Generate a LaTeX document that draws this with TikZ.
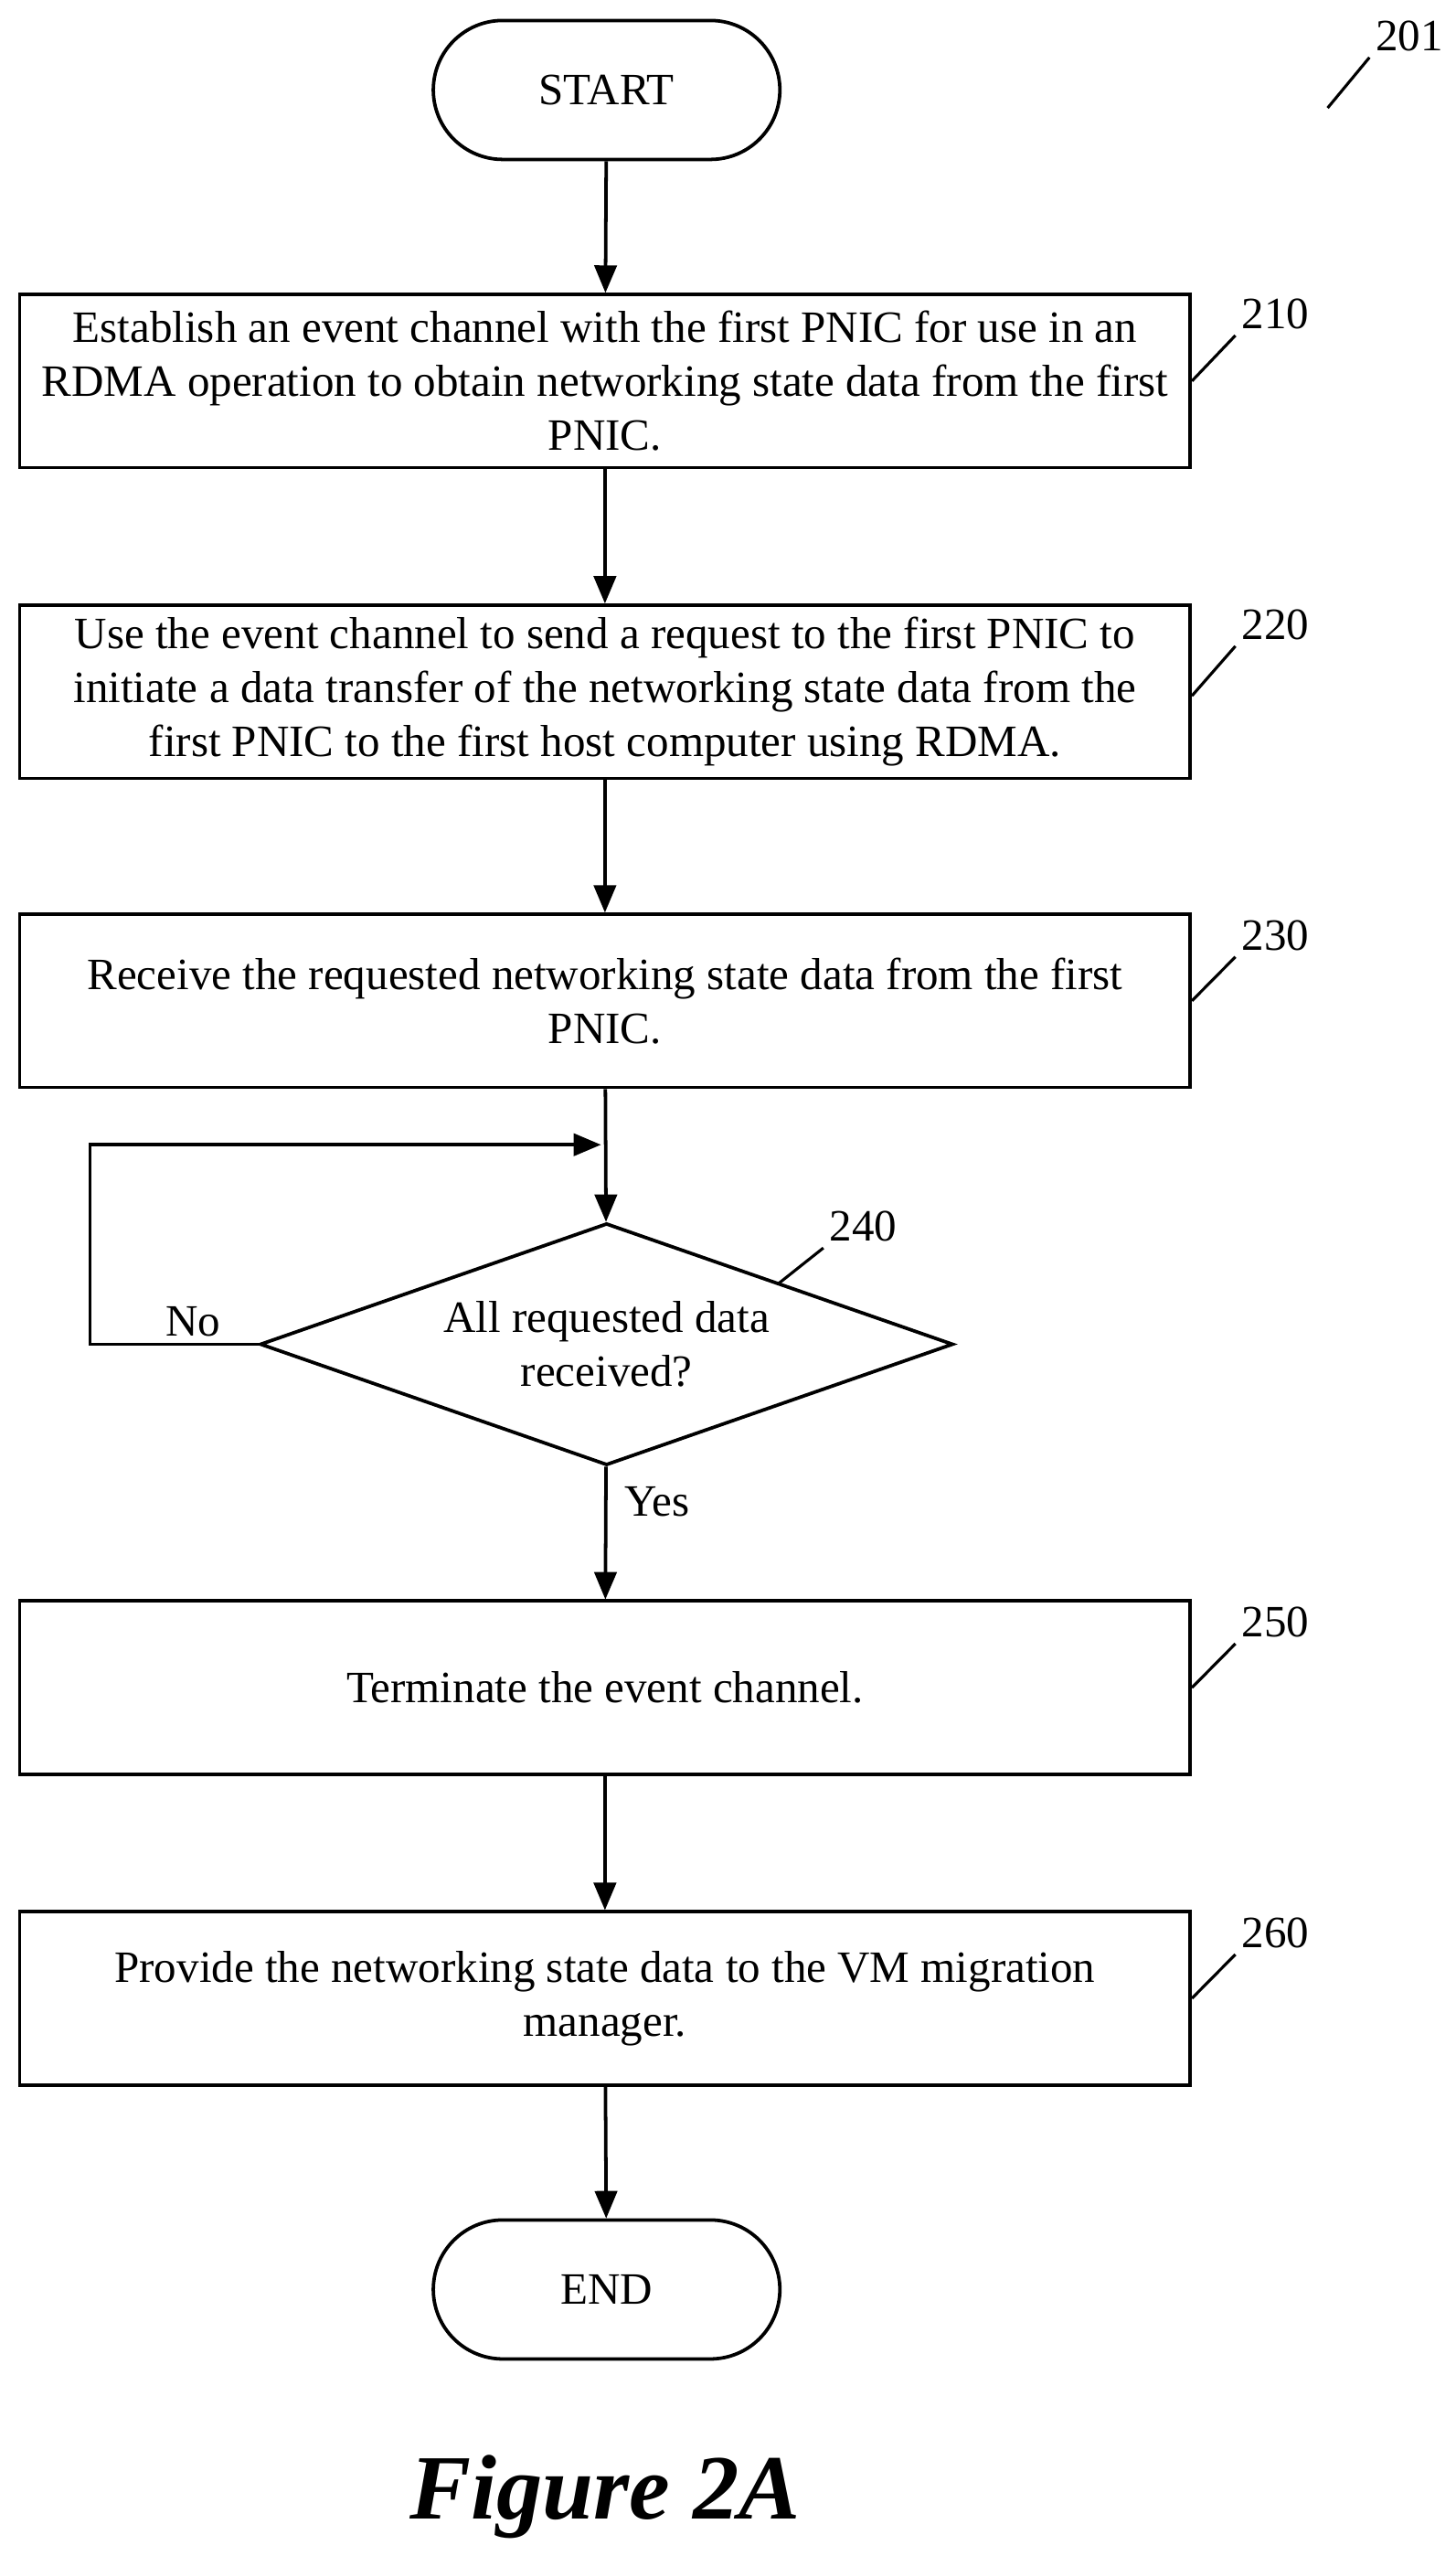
\documentclass[tikz,border=0pt]{standalone}
\usepackage{fontspec}
\setmainfont{Liberation Serif}
\usetikzlibrary{shapes.geometric, arrows, positioning}

\begin{document}
\begin{tikzpicture}[
  x=0.02cm, y=-0.02cm,
  every node/.style={
    font=\fontsize{15.6}{18.8}\selectfont,
    inner sep=2pt,
    text centered,
    align=center
  },
  stepbox/.style={rectangle, draw=black, line width=1.2pt, minimum width=14.32cm, minimum height=2.12cm},
  term/.style={rectangle, rounded corners=0.85cm, draw=black, line width=1.2pt, minimum width=4.24cm, minimum height=1.7cm},
  test/.style={diamond, draw=black, line width=1.2pt, minimum width=8.48cm, minimum height=2.96cm, aspect=2.86, inner sep=0pt},
  >=triangle 45, %Make the arrow tips triangles
  myline/.style={draw, line width=1.2pt, black},
  refline/.style={draw, line width=1pt, black}
  ]
\useasboundingbox (0,0) rectangle (890,1563);
\node[term] (start) at (371,55) {START};
\node[stepbox] (s210) at (370,233) {Establish an event channel with the first PNIC for use in an\\RDMA operation to obtain networking state data from the first\\PNIC.};
\node[stepbox] (s220) at (370,423) {Use the event channel to send a request to the first PNIC to\\initiate a data transfer of the networking state data from the\\first PNIC to the first host computer using RDMA.};
\node[stepbox] (s230) at (370,612) {Receive the requested networking state data from the first\\PNIC.};
\node[test] (s240) at (371,822) {All requested data\\received?};
\node[stepbox] (s250) at (370,1032) {Terminate the event channel.};
\node[stepbox] (s260) at (370,1222) {Provide the networking state data to the VM migration\\manager.};
\node[term] (end) at (371,1400) {END};
\node[font=\fontsize{32}{38}\selectfont\bfseries\itshape] (fig) at (370,1527) {Figure 2A};
% loop
\coordinate (loop) at (371,700);
\path[myline,->] (start) edge (s210)
                 (s210) edge (s220)
                 (s220) edge (s230)
                 (s230) edge (s240)
                 (s240) edge (s250)
                 (s250) edge (s260)
                 (s260) edge (end);
\draw[myline,->] (s240.west) -- (55,822) -- (55,700) -- ([xshift=-2pt]loop);
\node (no) at (118,808) {No};
\node (yes) at (402,918) {Yes};
% reference numerals
\node (r201) at (862,22) {201};
\node (r210) at (780,192) {210};
\node (r220) at (780,382) {220};
\node (r230) at (780,572) {230};
\node (r240) at (528,750) {240};
\node (r250) at (780,992) {250};
\node (r260) at (780,1182) {260};
\draw[refline] (812,66) -- (r201.south west);
\draw[refline] (s210.east) -- (r210.south west);
\draw[refline] ([yshift=-0.05cm]s220.east) -- (r220.south west);
\draw[refline] (s230.east) -- (r230.south west);
\draw[refline] (476,785) -- (r240.south west);
\draw[refline] (s250.east) -- (r250.south west);
\draw[refline] (s260.east) -- (r260.south west);
\end{tikzpicture}
\end{document}
